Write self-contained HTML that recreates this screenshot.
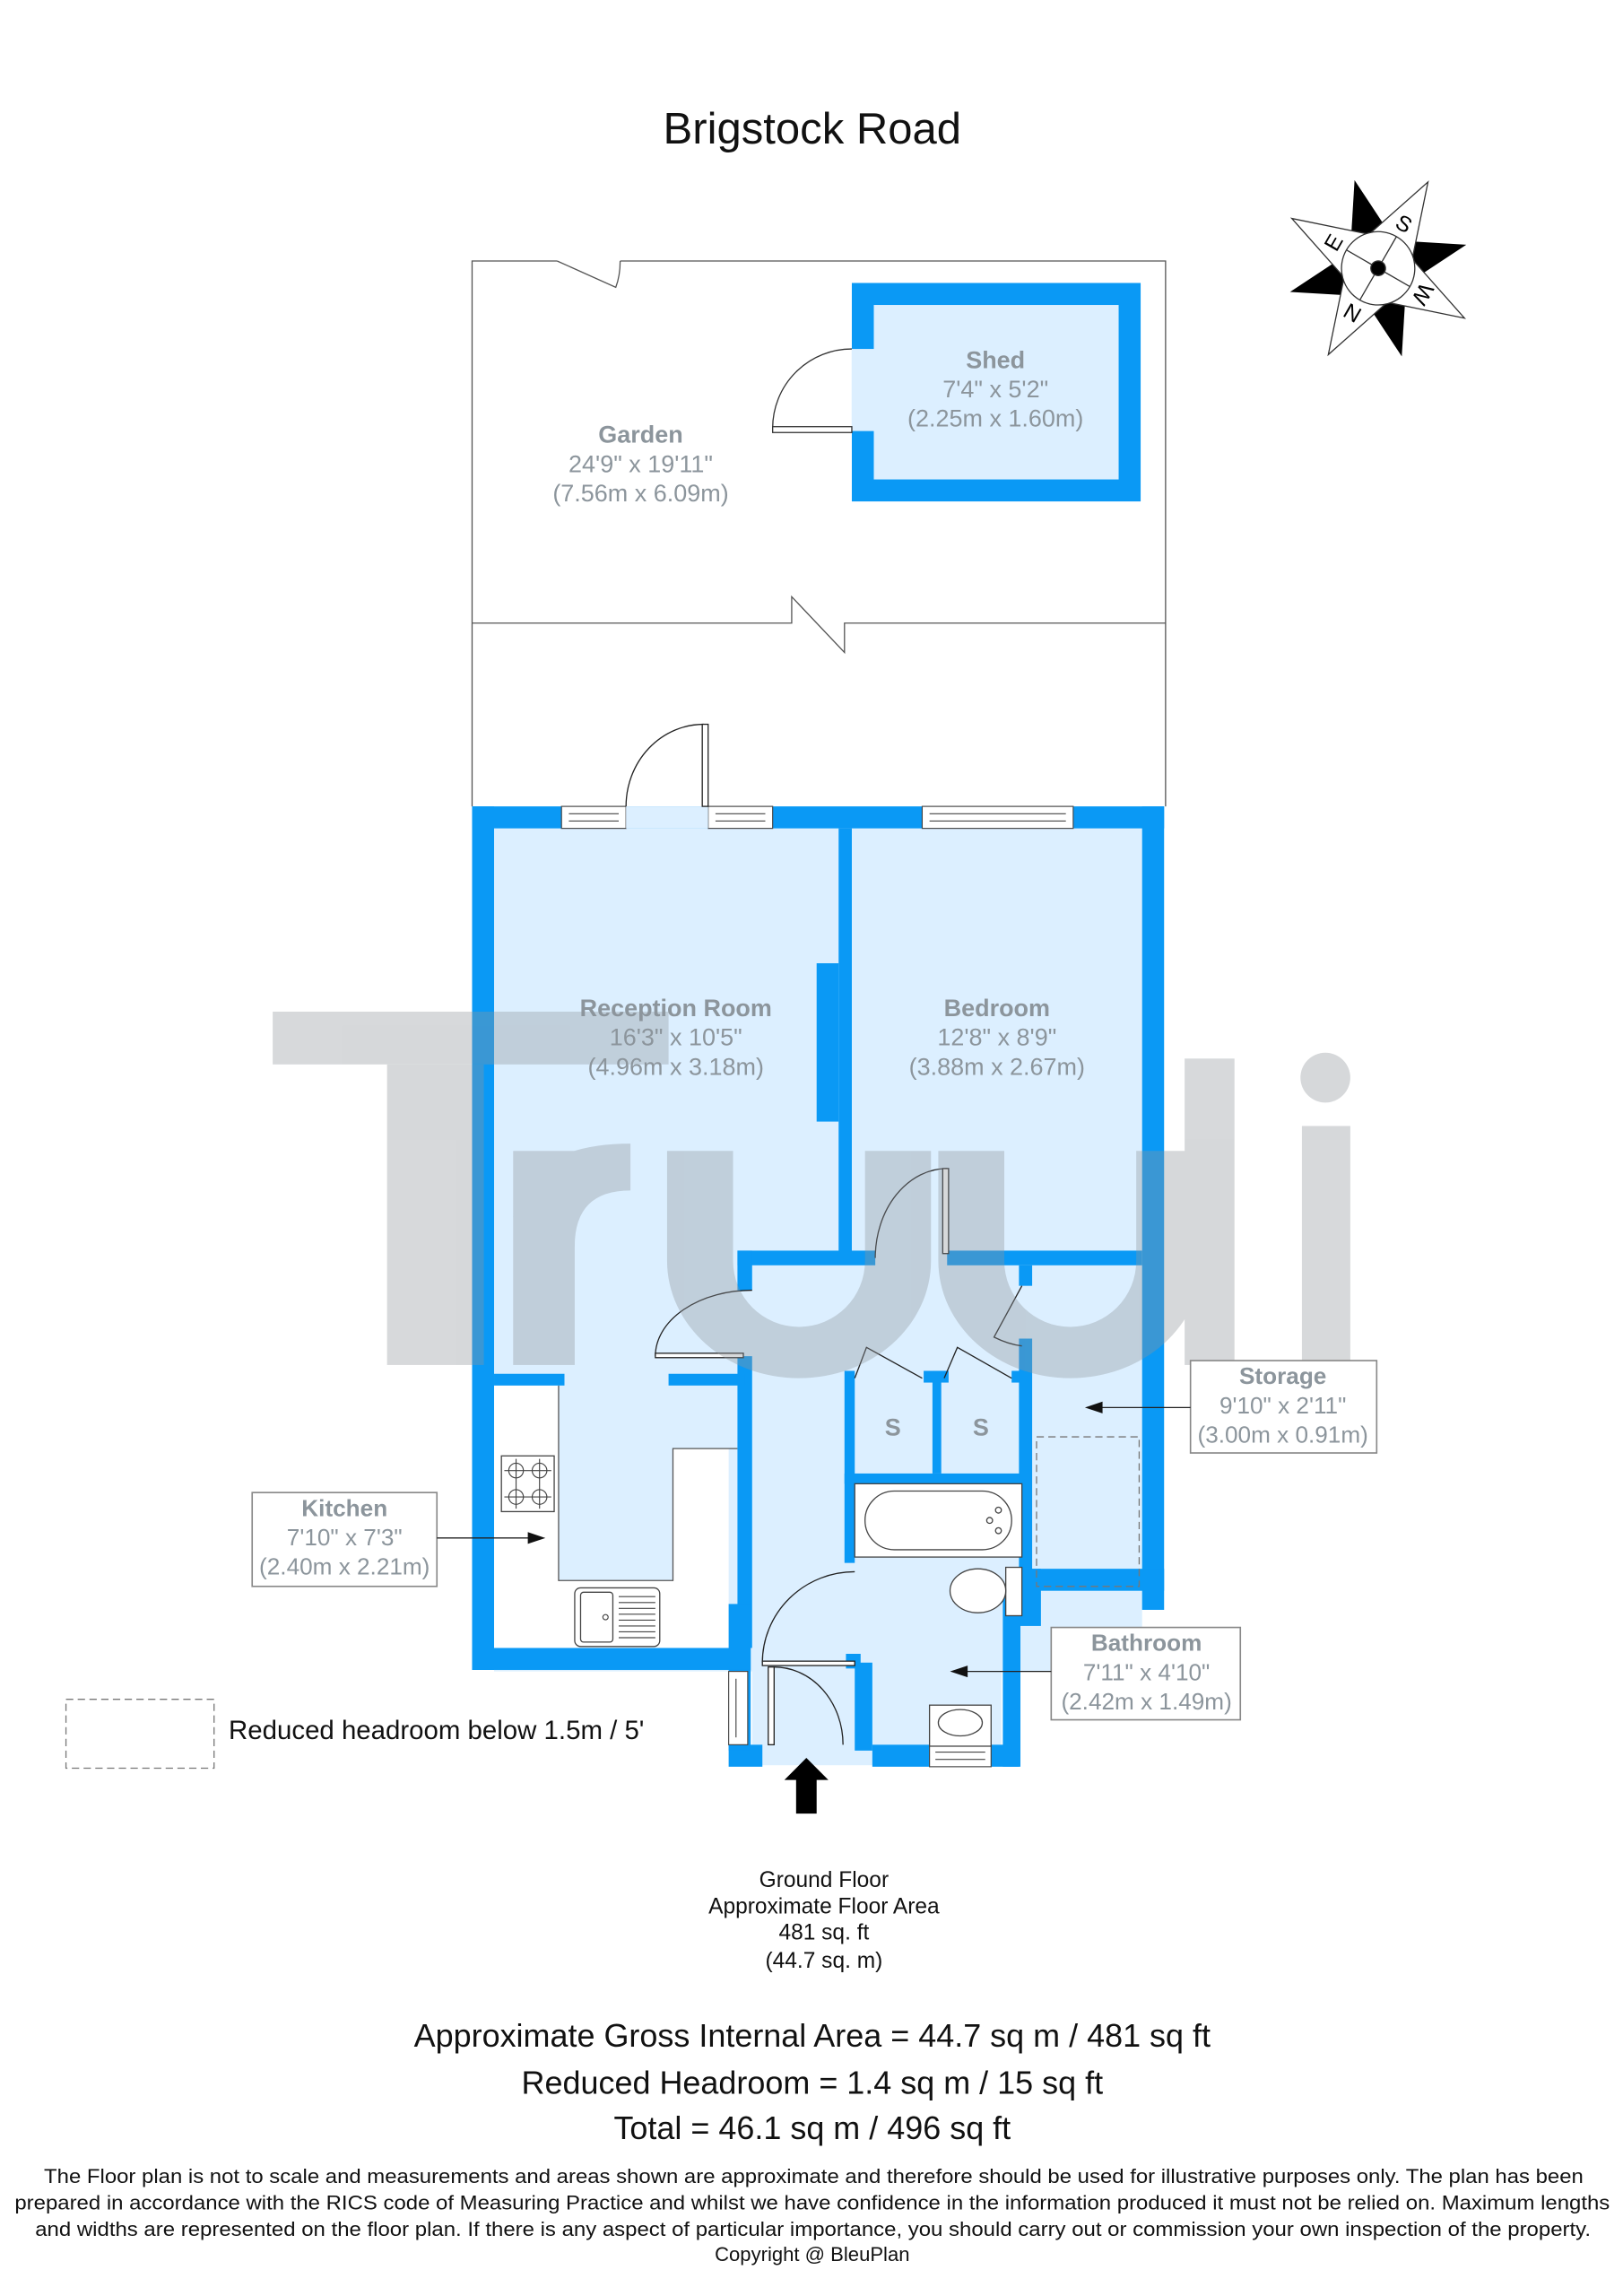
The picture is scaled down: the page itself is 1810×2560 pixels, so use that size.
<!DOCTYPE html>
<html><head><meta charset="utf-8"><style>html,body{margin:0;padding:0;background:#fff}svg{display:block}</style></head>
<body>
<svg width="1810" height="2560" viewBox="0 0 1107 1566" preserveAspectRatio="none" xmlns="http://www.w3.org/2000/svg" font-family="Liberation Sans, Arial, sans-serif">
<rect width="1107" height="1566" fill="#fff"/>
<text x="554" y="98" font-size="30" text-anchor="middle" fill="#111">Brigstock Road</text>

<!-- compass -->
<g transform="translate(940,183) rotate(30)" stroke="#333" stroke-width="0.8">
  <g fill="#000" stroke="none">
    <polygon points="8,-26 26,-8 44,-44"/>
    <polygon points="26,8 8,26 44,44"/>
    <polygon points="-8,26 -26,8 -44,44"/>
    <polygon points="-26,-8 -8,-26 -44,-44"/>
  </g>
  <polygon points="0,-68 17,-17 68,0 17,17 0,68 -17,17 -68,0 -17,-17" fill="#fff"/>
  <circle r="25" fill="#fff"/>
  <line x1="0" y1="-25" x2="0" y2="25"/><line x1="-25" y1="0" x2="25" y2="0"/>
  <circle r="5" fill="#000"/>
  <g stroke="none" fill="#000" font-size="15" text-anchor="middle">
    <text x="0" y="-30">S</text>
    <text transform="rotate(90)" x="0" y="-30">W</text>
    <text transform="rotate(180)" x="0" y="-30">N</text>
    <text transform="rotate(270)" x="0" y="-30">E</text>
  </g>
</g>

<!-- garden -->
<g stroke="#555" stroke-width="0.8" fill="none">
  <path d="M322,550 V178 H380 M423,178 H795 V550"/>
  <path d="M380,178 L420,196 Q423,188 423,178"/>
  <path d="M322,425 H540 V407 L576,445 V425 H795"/>
</g>
<!-- shed -->
<rect x="581" y="193" width="197" height="149" fill="#0a99f5"/>
<rect x="596" y="208" width="167" height="119" fill="#dcefff"/>
<rect x="581" y="238" width="16" height="56" fill="#dcefff"/>
<g stroke="#333" stroke-width="0.8" fill="none">
  <path d="M581,238 A54,54 0 0 0 527,292"/>
  <rect x="527" y="291" width="54" height="4" fill="#fff"/>
</g>

<!-- building floor fill -->
<rect x="337" y="565" width="442" height="575" fill="#dcefff"/>
<rect x="513" y="1134" width="170" height="70" fill="#dcefff"/>
<path d="M337,945 H381 V1078 H459 V988 H497 V1124 H337 Z" fill="#fff"/>
<path d="M381,945 V1078 H459 V988 H503" stroke="#555" stroke-width="0.8" fill="none"/>

<!-- walls -->
<g fill="#0a99f5">
  <rect x="322" y="550" width="472" height="15"/>
  <rect x="322" y="550" width="15" height="589"/>
  <rect x="779" y="550" width="15" height="548"/>
  <rect x="322" y="1124" width="190" height="15"/>
  <rect x="572" y="565" width="9" height="293"/>
  <rect x="557" y="657" width="15" height="108"/>
  <rect x="503" y="853" width="94" height="10"/>
  <rect x="646" y="853" width="133" height="10"/>
  <rect x="503" y="853" width="10" height="27"/>
  <rect x="503" y="925" width="10" height="199"/>
  <rect x="497" y="1094" width="15" height="45"/>
  <rect x="337" y="937" width="48" height="8"/>
  <rect x="456" y="937" width="52" height="8"/>
  <rect x="576" y="935" width="7" height="131"/>
  <rect x="576" y="1005" width="121" height="7"/>
  <rect x="636" y="935" width="6" height="70"/>
  <rect x="630" y="935" width="17" height="8"/>
  <rect x="690" y="935" width="8" height="8"/>
  <rect x="695" y="913" width="9" height="172"/>
  <rect x="695" y="863" width="9" height="14"/>
  <rect x="695" y="1070" width="99" height="15"/>
  <rect x="695" y="1070" width="15" height="39"/>
  <rect x="684" y="1085" width="12" height="120"/>
  <rect x="595" y="1190" width="100" height="15"/>
  <rect x="497" y="1190" width="23" height="15"/>
  <rect x="497" y="1139" width="15" height="55"/>
  <rect x="583" y="1134" width="12" height="60"/>
  <rect x="577" y="1128" width="10" height="10"/>
</g>

<!-- windows -->
<g fill="#fff" stroke="#444" stroke-width="0.7">
  <rect x="383" y="550" width="44" height="15"/><line x1="388" y1="555" x2="422" y2="555"/><line x1="388" y1="560" x2="422" y2="560"/>
  <rect x="483" y="550" width="44" height="15"/><line x1="488" y1="555" x2="522" y2="555"/><line x1="488" y1="560" x2="522" y2="560"/>
  <rect x="629" y="550" width="103" height="15"/><line x1="634" y1="555" x2="727" y2="555"/><line x1="634" y1="560" x2="727" y2="560"/>
  <rect x="497" y="1140" width="13" height="50"/><line x1="502" y1="1145" x2="502" y2="1185"/>
  <rect x="634" y="1190" width="42" height="15"/><line x1="638" y1="1195" x2="672" y2="1195"/><line x1="638" y1="1200" x2="672" y2="1200"/>
</g>
<rect x="427" y="550" width="56" height="15" fill="#dcefff"/>

<!-- doors -->
<g stroke="#222" stroke-width="0.8" fill="none">
  <path d="M427,550 A53,56 0 0 1 480,494"/><rect x="479" y="494" width="4" height="56" fill="#fff"/>
  <path d="M597,858 A49,61 0 0 1 646,797"/><rect x="643" y="797" width="4" height="58" fill="#fff"/>
  <path d="M513,880 A66,45 0 0 0 447,925"/><rect x="447" y="923" width="60" height="3" fill="#fff"/>
  <path d="M697,877 L678,912 Q688,917 697,918"/>
  <path d="M583,940 L591,919 L629,940"/>
  <path d="M644,940 L653,919 L690,940"/>
  <path d="M583,1072 A63,62 0 0 0 520,1134"/><rect x="520" y="1133" width="63" height="3" fill="#fff"/>
  <path d="M528,1137 A47,53 0 0 1 575,1190"/><rect x="524" y="1137" width="4" height="53" fill="#fff"/>
</g>

<!-- fixtures -->
<g stroke="#444" stroke-width="0.8" fill="#fff">
  <rect x="583" y="1012" width="114" height="50"/>
  <rect x="590" y="1017" width="100" height="40" rx="20"/>
  <circle cx="681" cy="1030" r="2"/><circle cx="681" cy="1044" r="2"/><circle cx="675" cy="1037" r="2"/>
  <rect x="686" y="1069" width="11" height="33"/>
  <ellipse cx="667" cy="1085" rx="19" ry="15"/>
  <rect x="634" y="1163" width="42" height="28"/>
  <ellipse cx="655" cy="1175" rx="15" ry="9"/>
  <rect x="342" y="993" width="36" height="38"/>
  <rect x="392" y="1083" width="58" height="40" rx="4"/>
  <rect x="396" y="1086" width="22" height="34" rx="2"/>
</g>
<g stroke="#444" stroke-width="0.7" fill="none">
  <circle cx="352" cy="1003" r="5"/><circle cx="368" cy="1003" r="5"/><circle cx="352" cy="1021" r="5"/><circle cx="368" cy="1021" r="5"/>
  <path d="M344,1003H376M344,1021H376M352,995V1029M368,995V1029"/>
  <path d="M422,1089H447M422,1093H447M422,1097H447M422,1101H447M422,1105H447M422,1109H447M422,1113H447M422,1117H447"/>
  <circle cx="413" cy="1103" r="1.8"/>
</g>
<rect x="707" y="980" width="70" height="102" fill="none" stroke="#777" stroke-width="0.8" stroke-dasharray="5,3"/>

<!-- watermark (overlay) -->
<g fill="#8f959b" opacity="0.36">
  <rect x="186" y="690" width="270" height="36"/>
  <rect x="264" y="726" width="66" height="205"/>
  <rect x="350" y="785" width="42" height="146"/>
  <path d="M350,830 Q360,780 430,780 V812 Q392,812 392,850 Z"/>
  <path d="M455,785 H500 V860 A45,45 0 0 0 590,860 V785 H635 V860 A90,80 0 0 1 455,860 Z"/>
  <path d="M640,785 H685 V860 A45,45 0 0 0 775,860 V785 H820 V860 A90,80 0 0 1 640,860 Z"/>
  <rect x="808" y="722" width="34" height="209"/>
  <rect x="888" y="768" width="33" height="163"/>
  <circle cx="904" cy="735" r="17"/>
</g>

<!-- room labels -->
<g fill="#8c959c" text-anchor="middle" font-size="16.5">
  <text x="437" y="302" font-weight="bold">Garden</text>
  <text x="437" y="322">24'9" x 19'11"</text>
  <text x="437" y="342">(7.56m x 6.09m)</text>
  <text x="679" y="251" font-weight="bold">Shed</text>
  <text x="679" y="271">7'4" x 5'2"</text>
  <text x="679" y="291">(2.25m x 1.60m)</text>
  <text x="461" y="693" font-weight="bold">Reception Room</text>
  <text x="461" y="713">16'3" x 10'5"</text>
  <text x="461" y="733">(4.96m x 3.18m)</text>
  <text x="680" y="693" font-weight="bold">Bedroom</text>
  <text x="680" y="713">12'8" x 8'9"</text>
  <text x="680" y="733">(3.88m x 2.67m)</text>
  <text x="609" y="979" font-weight="bold">S</text>
  <text x="669" y="979" font-weight="bold">S</text>
</g>

<!-- callouts -->
<g stroke="#888" stroke-width="1" fill="#fff">
  <rect x="172" y="1018" width="126" height="64"/>
  <rect x="812" y="928" width="127" height="63"/>
  <rect x="717" y="1110" width="129" height="63"/>
</g>
<g stroke="#222" stroke-width="0.8">
  <line x1="298" y1="1049" x2="362" y2="1049"/>
  <line x1="812" y1="960" x2="750" y2="960"/>
  <line x1="717" y1="1140" x2="658" y2="1140"/>
</g>
<g fill="#111">
  <polygon points="372,1049 360,1045 360,1053"/>
  <polygon points="740,960 752,956 752,964"/>
  <polygon points="648,1140 660,1136 660,1144"/>
</g>
<g fill="#8c959c" text-anchor="middle" font-size="16">
  <text x="235" y="1034" font-weight="bold">Kitchen</text>
  <text x="235" y="1054">7'10" x 7'3"</text>
  <text x="235" y="1074">(2.40m x 2.21m)</text>
  <text x="875" y="944" font-weight="bold">Storage</text>
  <text x="875" y="964">9'10" x 2'11"</text>
  <text x="875" y="984">(3.00m x 0.91m)</text>
  <text x="782" y="1126" font-weight="bold">Bathroom</text>
  <text x="782" y="1146">7'11" x 4'10"</text>
  <text x="782" y="1166">(2.42m x 1.49m)</text>
</g>

<!-- entrance arrow -->
<polygon points="550,1199 565,1214 557,1214 557,1237 543,1237 543,1214 535,1214" fill="#000"/>

<!-- legend -->
<rect x="45" y="1159" width="101" height="47" fill="none" stroke="#777" stroke-width="0.8" stroke-dasharray="5,3"/>
<text x="156" y="1186" font-size="18" fill="#111">Reduced headroom below 1.5m / 5'</text>

<!-- bottom text -->
<g text-anchor="middle" fill="#111">
  <text x="562" y="1287" font-size="15">Ground Floor</text>
  <text x="562" y="1305" font-size="15">Approximate Floor Area</text>
  <text x="562" y="1323" font-size="15">481 sq. ft</text>
  <text x="562" y="1342" font-size="15">(44.7 sq. m)</text>
  <text x="554" y="1396" font-size="22">Approximate Gross Internal Area = 44.7 sq m / 481 sq ft</text>
  <text x="554" y="1428" font-size="22">Reduced Headroom = 1.4 sq m / 15 sq ft</text>
  <text x="554" y="1459" font-size="22">Total = 46.1 sq m / 496 sq ft</text>
</g>
<g fill="#111" font-size="13.5">
  <text x="30" y="1489" textLength="1050" lengthAdjust="spacingAndGlyphs">The Floor plan is not to scale and measurements and areas shown are approximate and therefore should be used for illustrative purposes only. The plan has been</text>
  <text x="10" y="1507" textLength="1088" lengthAdjust="spacingAndGlyphs">prepared in accordance with the RICS code of Measuring Practice and whilst we have confidence in the information produced it must not be relied on. Maximum lengths</text>
  <text x="24" y="1525" textLength="1061" lengthAdjust="spacingAndGlyphs">and widths are represented on the floor plan. If there is any aspect of particular importance, you should carry out or commission your own inspection of the property.</text>
  <text x="554" y="1542" text-anchor="middle">Copyright @ BleuPlan</text>
</g>
</svg>
</body></html>
